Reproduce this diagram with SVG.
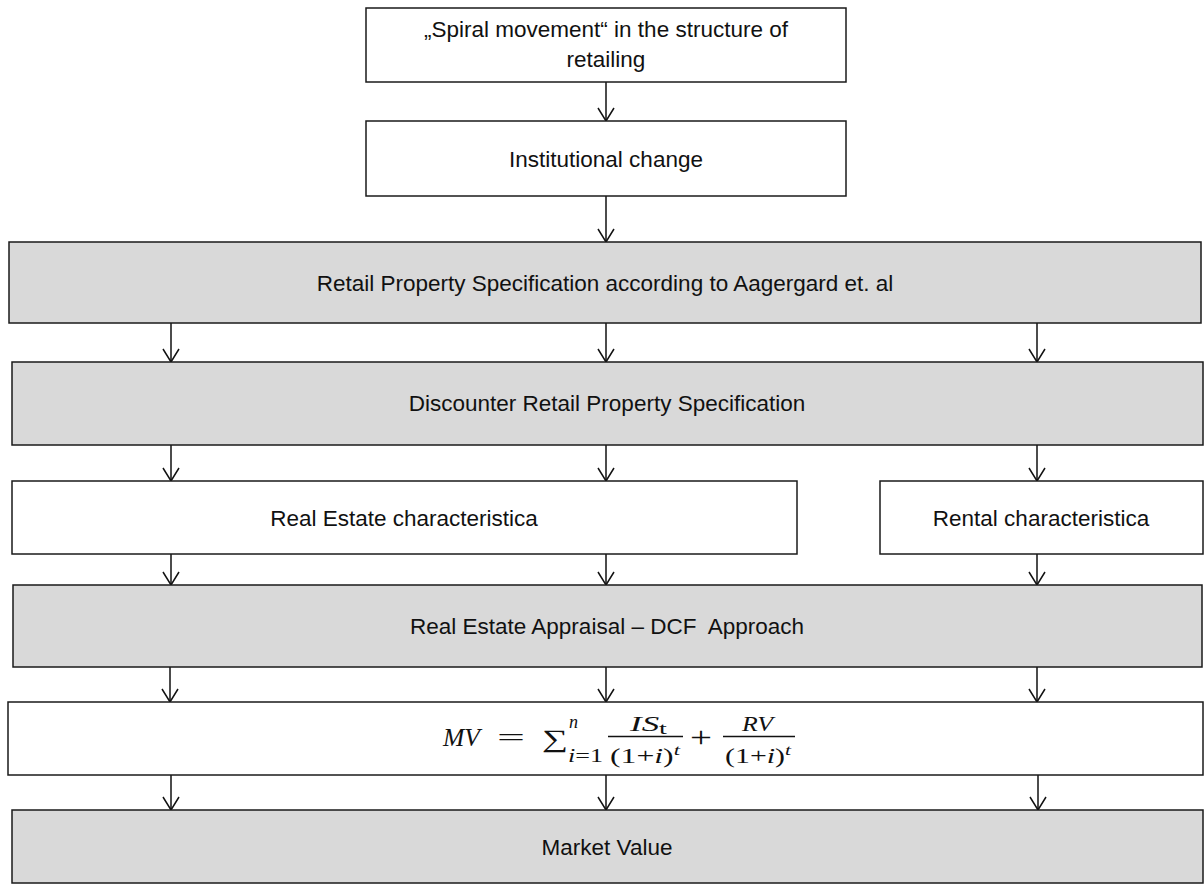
<svg xmlns="http://www.w3.org/2000/svg" width="1204" height="885" viewBox="0 0 1204 885">
<style>
.box{stroke:#1a1a1a;stroke-width:1.5}
.w{fill:#ffffff}
.g{fill:#d9d9d9}
.t{font-family:"Liberation Sans",Arial,sans-serif;font-size:22.5px;fill:#111;text-anchor:middle}
.m{font-family:"Liberation Serif","DejaVu Serif",serif;font-style:italic;fill:#111}
.up{font-style:normal}
.c{stroke:#111;stroke-width:1.5;fill:none}
</style>
<defs>
<marker id="ah" markerUnits="userSpaceOnUse" markerWidth="16" markerHeight="20" viewBox="-15 -10 16 20" refX="0" refY="0" orient="auto">
<path d="M-13,-8 L0,0 L-13,8" fill="none" stroke="#111" stroke-width="1.5"/>
</marker>
</defs>
<rect width="1204" height="885" fill="#ffffff"/>
<g id="connectors">
<line class="c" x1="606" y1="82" x2="606" y2="121" marker-end="url(#ah)"/>
<line class="c" x1="606" y1="196" x2="606" y2="242" marker-end="url(#ah)"/>
<line class="c" x1="171" y1="323" x2="171" y2="362" marker-end="url(#ah)"/>
<line class="c" x1="606" y1="323" x2="606" y2="362" marker-end="url(#ah)"/>
<line class="c" x1="1037" y1="323" x2="1037" y2="362" marker-end="url(#ah)"/>
<line class="c" x1="171" y1="445" x2="171" y2="481" marker-end="url(#ah)"/>
<line class="c" x1="606" y1="445" x2="606" y2="481" marker-end="url(#ah)"/>
<line class="c" x1="1037" y1="445" x2="1037" y2="481" marker-end="url(#ah)"/>
<line class="c" x1="171" y1="554" x2="171" y2="585" marker-end="url(#ah)"/>
<line class="c" x1="606" y1="554" x2="606" y2="585" marker-end="url(#ah)"/>
<line class="c" x1="1037" y1="554" x2="1037" y2="585" marker-end="url(#ah)"/>
<line class="c" x1="170" y1="667" x2="170" y2="702" marker-end="url(#ah)"/>
<line class="c" x1="606" y1="667" x2="606" y2="702" marker-end="url(#ah)"/>
<line class="c" x1="1037" y1="667" x2="1037" y2="702" marker-end="url(#ah)"/>
<line class="c" x1="171" y1="775" x2="171" y2="810" marker-end="url(#ah)"/>
<line class="c" x1="606" y1="775" x2="606" y2="810" marker-end="url(#ah)"/>
<line class="c" x1="1038" y1="775" x2="1038" y2="810" marker-end="url(#ah)"/>
</g>
<g id="spiral">
<rect class="box w" x="366" y="8" width="480" height="74"/>
<text class="t" x="606" y="37">„Spiral movement“ in the structure of</text>
<text class="t" x="606" y="67">retailing</text>
</g>
<g id="institutional">
<rect class="box w" x="366" y="121" width="480" height="75"/>
<text class="t" x="606" y="167">Institutional change</text>
</g>
<g id="retail-spec">
<rect class="box g" x="9" y="242" width="1192" height="81"/>
<text class="t" x="605" y="291">Retail Property Specification according to Aagergard et. al</text>
</g>
<g id="discounter-spec">
<rect class="box g" x="12" y="362" width="1191" height="83"/>
<text class="t" x="607" y="411">Discounter Retail Property Specification</text>
</g>
<g id="real-estate">
<rect class="box w" x="12" y="481" width="785" height="73"/>
<text class="t" x="404" y="526">Real Estate characteristica</text>
</g>
<g id="rental">
<rect class="box w" x="880" y="481" width="323" height="73"/>
<text class="t" x="1041" y="526">Rental characteristica</text>
</g>
<g id="appraisal">
<rect class="box g" x="13" y="585" width="1189" height="82"/>
<text class="t" x="607" y="634" xml:space="preserve">Real Estate Appraisal – DCF  Approach</text>
</g>
<g id="formula">
<rect class="box w" x="8" y="702" width="1195" height="73"/>
<text class="m" x="443" y="746" font-size="25" textLength="37" lengthAdjust="spacingAndGlyphs">MV</text>
<text class="m up" x="497" y="746" font-size="25" textLength="28" lengthAdjust="spacingAndGlyphs">=</text>
<text class="m up" x="542" y="747" font-size="25" textLength="26" lengthAdjust="spacingAndGlyphs">∑</text>
<text class="m" x="569" y="728" font-size="18">n</text>
<text class="m" x="568" y="762" font-size="19" textLength="35" lengthAdjust="spacingAndGlyphs">i<tspan class="up">=1</tspan></text>
<text class="m" x="630" y="731" font-size="21" textLength="37" lengthAdjust="spacingAndGlyphs">IS<tspan class="up" font-size="17" dy="3">t</tspan></text>
<line x1="608" y1="736.5" x2="683" y2="736.5" stroke="#111" stroke-width="1.3"/>
<text class="m" x="610" y="763" font-size="21" textLength="70" lengthAdjust="spacingAndGlyphs"><tspan class="up">(1+</tspan>i<tspan class="up">)</tspan><tspan font-size="15" dy="-8">t</tspan></text>
<text class="m up" x="690" y="747" font-size="30" textLength="22" lengthAdjust="spacingAndGlyphs">+</text>
<text class="m" x="742" y="731" font-size="21" textLength="31" lengthAdjust="spacingAndGlyphs">RV</text>
<line x1="723" y1="736.5" x2="795" y2="736.5" stroke="#111" stroke-width="1.3"/>
<text class="m" x="725" y="763" font-size="21" textLength="66" lengthAdjust="spacingAndGlyphs"><tspan class="up">(1+</tspan>i<tspan class="up">)</tspan><tspan font-size="15" dy="-8">t</tspan></text>
</g>
<g id="market-value">
<rect class="box g" x="12" y="810" width="1191" height="73"/>
<text class="t" x="607" y="855">Market Value</text>
</g>
</svg>
